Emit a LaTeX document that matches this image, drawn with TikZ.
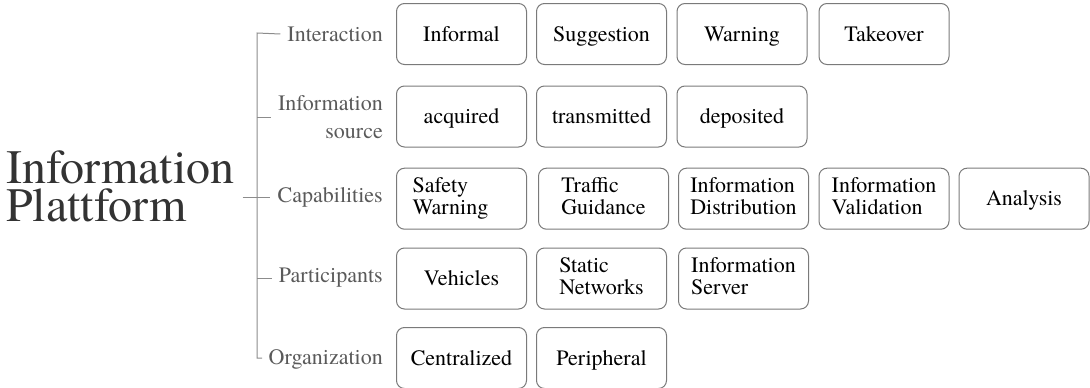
\documentclass[tikz,border=0pt]{standalone}
\usepackage{fontspec}
\setmainfont{texgyretermes}[Extension=.otf, UprightFont=*-regular, BoldFont=*-bold, ItalicFont=*-italic, BoldItalicFont=*-bolditalic]
\definecolor{boxline}{HTML}{7A7A7A}
\definecolor{labtext}{HTML}{5A5A5A}
\definecolor{treeline}{HTML}{8C8C8C}
\definecolor{titletext}{HTML}{333333}
\begin{document}
\begin{tikzpicture}[x=1pt,y=-1pt,
  itembox/.style={draw=boxline, line width=1pt, rounded corners=8pt,
    minimum width=130pt, minimum height=61pt, inner sep=2pt, align=left,
    text=black, font=\fontsize{22}{22.5}\selectfont,
    execute at begin node={\rule{0pt}{19.5pt}}, execute at end node={\rule[-5pt]{0pt}{5pt}}},
  catlabel/.style={anchor=east, align=right, text=labtext, inner sep=3pt,
    font=\fontsize{22}{27.5}\selectfont},
  titlefont/.style={text=titletext, inner sep=0pt, anchor=base west,
    font=\fontsize{48}{40}\selectfont},
  branch/.style={draw=treeline, line width=1pt, shorten >=4pt}
]
\useasboundingbox (0,0) rectangle (1090,388);

% title
\node[titlefont] (T1) at (6,183) {Information};
\node[titlefont] (T2) at (6,221.7) {Plattform};

% category labels
\node[catlabel] (L1) at (386,34) {Interaction};
\node[catlabel] (L2) at (386,117) {Information\\source};
\node[catlabel] (L3) at (386,197) {Capabilities};
\node[catlabel] (L4) at (386,278) {Participants};
\node[catlabel] (L5) at (386,359) {Organization};

% tree
\coordinate (top) at (257,33);
\coordinate (bot) at (257,358);
\coordinate (j2) at (257,117);
\coordinate (j4) at (257,278);
\draw[treeline, line width=1pt] (L1.west) ++(-4,0) -- (top) -- (bot) -- ++(5,0);
\draw[branch] (j2) -- (L2.west);
\draw[branch] (T1.east |- L3.west) ++(8,0) -- (L3.west);
\draw[branch] (j4) -- (L4.west);

% row 1
\node[itembox] (a1) at (461.5,34) {Informal};
\node[itembox] (a2) at (601.5,34) {Suggestion};
\node[itembox] (a3) at (742,34) {Warning};
\node[itembox] (a4) at (884,34) {Takeover};
% row 2
\node[itembox] (b1) at (461.5,116.5) {acquired};
\node[itembox] (b2) at (601.5,116.5) {transmitted};
\node[itembox] (b3) at (742,116.5) {deposited};
% row 3
\node[itembox] (c1) at (461.5,198.7) {Safety\\Warning\hspace*{22pt}};
\node[itembox] (c2) at (603.5,198.7) {Traffic\\Guidance};
\node[itembox] (c3) at (743.5,198.7) {Information\\Distribution};
\node[itembox] (c4) at (884,198.7) {Information\\Validation};
\node[itembox] (c5) at (1024,198.7) {Analysis};
% row 4
\node[itembox] (d1) at (461.5,278.5) {Vehicles};
\node[itembox] (d2) at (601.5,278.5) {Static\\Networks};
\node[itembox] (d3) at (743.5,278.5) {Information\\Server};
% row 5
\node[itembox] (e1) at (461.5,358) {Centralized};
\node[itembox] (e2) at (601.5,358) {Peripheral};
\end{tikzpicture}
\end{document}
